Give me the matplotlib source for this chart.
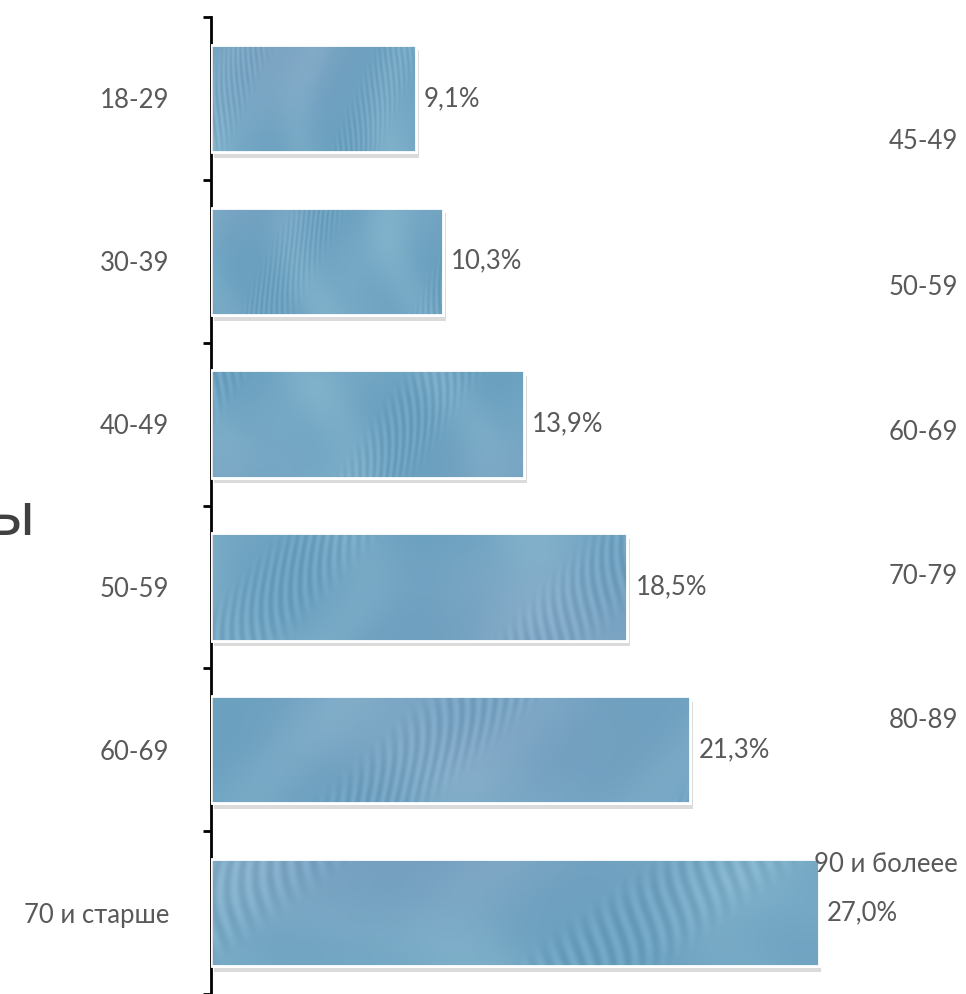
import numpy as np
import matplotlib
matplotlib.use("Agg")
import matplotlib.pyplot as plt
from matplotlib import patheffects as pe

categories = ["18-29", "30-39", "40-49", "50-59", "60-69", "70 и старше"]
values = [9.1, 10.3, 13.9, 18.5, 21.3, 27.0]
value_labels = ["9,1%", "10,3%", "13,9%", "18,5%", "21,3%", "27,0%"]
side_labels = ["45-49", "50-59", "60-69", "70-79", "80-89", "90 и болеее"]

plt.rcParams['font.family'] = ['Lato', 'Open Sans', 'DejaVu Sans']
W, H = 966, 994
fig = plt.figure(figsize=(W / 100, H / 100), dpi=100)
ax = fig.add_axes([211 / W, 0.0, (W - 211) / W, (H - 17) / H])

TXT = "#595959"
FS = 18.5
xmax = (W - 211) / 22.5
bar_h = 0.66
y = np.arange(len(categories))

bars = ax.barh(y, values, height=bar_h, color="#6fa6c2", edgecolor="white",
               linewidth=2, zorder=2,
               path_effects=[pe.SimplePatchShadow(offset=(2, -4), shadow_rgbFace="#888888", alpha=0.3),
                             pe.Normal()])

# painted-brush style texture (decorative only)
ny, nx = 120, 700
yy, xx = np.mgrid[0:ny, 0:nx].astype(float)
base = np.array([0.42, 0.63, 0.75])
light = np.array([0.55, 0.73, 0.82])
purple = np.array([0.56, 0.62, 0.76])
for i, b in enumerate(bars):
    ph = i * 1.3
    s1 = np.sin(xx / 47.0 + 1.6 * np.sin(yy / 53.0 + ph) + ph)
    s2 = np.sin(xx / 97.0 - 1.1 * np.cos(yy / 41.0 + 0.5 * ph) + 2 * ph)
    s3 = np.sin(xx / 2.6 + 4.0 * np.sin(yy / 31.0 + xx / 70.0 + ph))
    w = 0.35 * (s1 * 0.5 + 0.5) ** 2 + 0.3 * (s2 * 0.5 + 0.5) ** 2
    mask = np.clip((np.sin(xx / 83.0 + yy / 60.0 + 3 * ph) - 0.4) * 2, 0, 1)
    stre = 0.035 * s3 * mask
    tint = 0.3 * (np.sin(xx / 150.0 + ph) * 0.5 + 0.5) * (np.cos(yy / 45.0 + ph) * 0.5 + 0.5)
    img = base[None, None, :] * (1 - w[..., None]) + light[None, None, :] * w[..., None]
    img = img * (1 - tint[..., None]) + purple[None, None, :] * tint[..., None]
    img = np.clip(img + stre[..., None], 0, 1)
    v = values[i]
    im = ax.imshow(img, extent=[0, v, y[i] + bar_h / 2, y[i] - bar_h / 2],
                   aspect="auto", zorder=2.5, interpolation="bilinear")
    im.set_clip_path(b)

ax.barh(y, values, height=bar_h, fill=False, edgecolor="white", linewidth=2, zorder=3)

ax.set_xlim(0, xmax)
ax.set_ylim(len(categories) - 0.5, -0.5)

for i, v in enumerate(values):
    ax.annotate(value_labels[i], (v, y[i]), xytext=(6, 0), textcoords="offset points",
                va="center", ha="left", fontsize=FS, color=TXT, zorder=4)

ax.set_yticks(y)
ax.set_yticklabels(categories, fontsize=FS, color=TXT)
ax.tick_params(axis="y", length=0, pad=30)
ax.set_yticks(np.arange(-0.5, len(categories), 1.0), minor=True)
ax.tick_params(axis="y", which="minor", length=6, width=2, color="black")
ax.set_xticks([])
for s in ["top", "right", "bottom"]:
    ax.spines[s].set_visible(False)
ax.spines["left"].set_linewidth(2)
ax.spines["left"].set_color("black")

side_y = [142, 287, 432, 577, 720, 865]
for lab, py in zip(side_labels, side_y):
    fig.text(958 / W, 1 - py / H, lab, ha="right", va="center", fontsize=FS, color=TXT)

fig.text(35 / W, 1 - 535 / H, "ы", ha="right", va="baseline", fontsize=44,
         color="#404040", family=["Noto Sans", "DejaVu Sans"])

fig.savefig("out.png", dpi=100)
